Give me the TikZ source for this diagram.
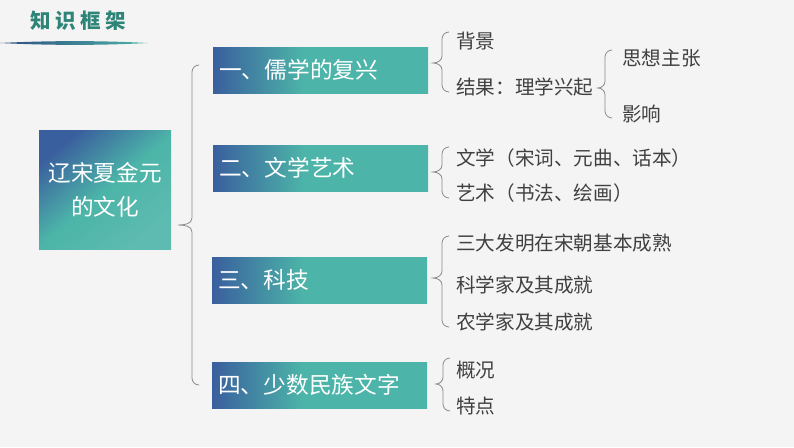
\documentclass[tikz,border=0pt]{standalone}
\usepackage{fontspec}
\setmainfont{Noto Sans CJK SC}
\newfontfamily\cjk{Noto Sans CJK SC}
\definecolor{bgc}{HTML}{F4F4F4}
\definecolor{cblue}{HTML}{3A5F9E}
\definecolor{cteal}{HTML}{4CB4A8}
\definecolor{titlec}{HTML}{2E8577}
\definecolor{txtc}{HTML}{404040}
\definecolor{bracec}{HTML}{8A8A8A}
\pgfdeclarehorizontalshading{boxsh}{100bp}{color(0bp)=(cblue); color(25bp)=(cblue); color(46bp)=(cteal); color(100bp)=(cteal)}
\tikzset{
  mainbox/.style={minimum width=215pt, minimum height=46pt, inner sep=0pt, shading=boxsh},
  boxtext/.style={anchor=west, text=white, font=\fontsize{22.7}{26}\selectfont, inner sep=0pt},
  item/.style={anchor=west, text=txtc, font=\fontsize{19.6}{22}\selectfont, inner sep=0pt},
  bracel/.style={draw=bracec, line width=0.8pt}
}
\newcommand\mybrace[5]{% x, top, tipx, mid, bottom
  \draw[bracel] ({#1+7},#2) to[out=180,in=90] (#1,{#2+7}) -- (#1,{#4-7})
     to[out=-90,in=0] (#3,#4) to[out=0,in=90] (#1,{#4+7}) -- (#1,{#5-7})
     to[out=-90,in=180] ({#1+7},#5);}
\begin{document}
\begin{tikzpicture}[x=1pt,y=-1pt]
\useasboundingbox (0,0) rectangle (794,447);
\fill[bgc] (0,0) rectangle (794,447);
% title
\node[text=titlec, font=\fontsize{20.5}{22}\selectfont\bfseries, anchor=west, inner sep=0pt] (title) at (30,21) {知\hspace{4.5pt}识\hspace{4.5pt}框\hspace{4.5pt}架};
\shade[left color=cblue!80!black, right color=cteal] (0,43) .. controls (50,40.5) and (100,40.5) .. (148,43) .. controls (100,45.5) and (50,45.5) .. (0,43) -- cycle;
% central box
\node[minimum width=132pt, minimum height=119pt, inner sep=0pt, top color=cblue, bottom color=cteal!90!white, middle color=cteal, shading angle=40, anchor=north west] (center) at (39,130) {};
\node[text=white, font=\fontsize{22.6}{34}\selectfont, align=center] (ctext) at (center.center) {辽宋夏金元\\的文化};
% main boxes
\node[mainbox, anchor=north west] (b1) at (213,47) {};
\node[mainbox, anchor=north west] (b2) at (213,145) {};
\node[mainbox, anchor=north west] (b3) at (212,257) {};
\node[mainbox, anchor=north west] (b4) at (212,362) {};
\node[boxtext] (t1) at (219,70) {一、儒学的复兴};
\node[boxtext] (t2) at (219,168) {二、文学艺术};
\node[boxtext] (t3) at (218,280) {三、科技};
\node[boxtext] (t4) at (218,385) {四、少数民族文字};
% big brace
\mybrace{192}{65}{178}{225}{385}
% right items
\mybrace{442}{32}{433}{63}{92}
\node[item] (i11) at (456,41) {背景};
\node[item] (i12) at (456,87) {结果：理学兴起};
\mybrace{605}{50}{598}{88}{118}
\node[item] (i121) at (622,58) {思想主张};
\node[item] (i122) at (622,114) {影响};
\mybrace{442}{147}{433}{172}{198}
\node[item] (i21) at (456,158) {文学（宋词、元曲、话本）};
\node[item] (i22) at (456,193) {艺术（书法、绘画）};
\mybrace{442}{236}{433}{278}{327}
\node[item] (i31) at (456,243) {三大发明在宋朝基本成熟};
\node[item] (i32) at (456,285) {科学家及其成就};
\node[item] (i33) at (456,322) {农学家及其成就};
\mybrace{443}{358}{436}{384}{411}
\node[item] (i41) at (456,370) {概况};
\node[item] (i42) at (456,406) {特点};
\end{tikzpicture}
\end{document}
